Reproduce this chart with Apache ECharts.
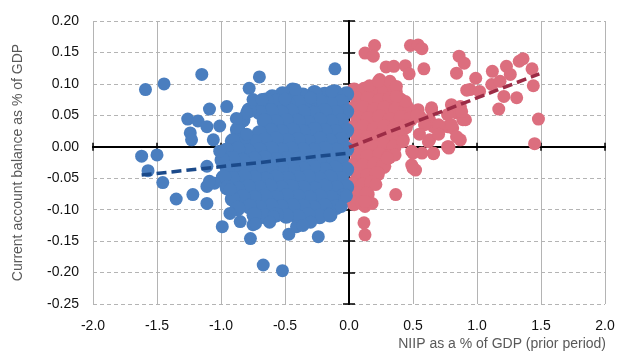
<!DOCTYPE html>
<html>
<head>
<meta charset="utf-8">
<script src="https://cdn.jsdelivr.net/npm/echarts@6/dist/echarts.min.js"></script>
<style>
  html, body { margin: 0; padding: 0; background: #fff; }
  #chart { width: 618px; height: 353px; }
</style>
</head>
<body>
<div id="chart"></div>
<script>
// tick range
const xTicks = { min: -2, max: 2, step: 0.5 };
const yTicks = { min: -0.25, max: 0.2, step: 0.05 };

// countries with negative NIIP (blue) - the dense middle of the cloud
const debtorCore = [
  [-0.02,0.084],[-0.11,0.087],[-0.19,0.083],[-0.27,0.086],[-0.36,0.082],[-0.44,0.09],[-0.52,0.084],[-0.60,0.079],
  [-0.06,0.071],[-0.15,0.069],[-0.23,0.072],[-0.31,0.068],[-0.40,0.071],[-0.48,0.069],[-0.57,0.072],[-0.65,0.074],[-0.68,0.066],
  [-0.02,0.056],[-0.10,0.054],[-0.19,0.057],[-0.28,0.053],[-0.36,0.055],[-0.45,0.056],[-0.53,0.054],[-0.61,0.057],[-0.70,0.055],[-0.78,0.058],
  [-0.06,0.041],[-0.14,0.039],[-0.23,0.042],[-0.32,0.038],[-0.40,0.04],[-0.49,0.041],[-0.57,0.039],[-0.66,0.041],[-0.83,0.043],
  [-0.02,0.026],[-0.11,0.024],[-0.19,0.025],[-0.27,0.027],[-0.36,0.023],[-0.44,0.026],[-0.53,0.024],[-0.61,0.025],[-0.70,0.022],[-0.87,0.027],
  [-0.06,0.011],[-0.15,0.009],[-0.23,0.012],[-0.32,0.008],[-0.40,0.011],[-0.48,0.009],[-0.57,0.012],[-0.66,0.01],[-0.74,0.008],[-0.83,0.011],[-0.91,0.009],
  [-0.02,-0.004],[-0.10,-0.006],[-0.19,-0.003],[-0.28,-0.006],[-0.36,-0.005],[-0.45,-0.004],[-0.53,-0.006],[-0.61,-0.003],[-0.70,-0.005],[-0.79,-0.007],[-0.87,-0.004],[-0.96,-0.006],
  [-0.06,-0.019],[-0.14,-0.021],[-0.23,-0.018],[-0.31,-0.022],[-0.40,-0.02],[-0.49,-0.019],[-0.57,-0.021],[-0.66,-0.018],[-0.74,-0.02],[-0.83,-0.022],[-0.91,-0.019],[-0.99,-0.021],
  [-0.02,-0.036],[-0.11,-0.034],[-0.19,-0.037],[-0.28,-0.033],[-0.36,-0.035],[-0.44,-0.036],[-0.53,-0.034],[-0.61,-0.036],[-0.70,-0.033],[-0.78,-0.035],[-0.87,-0.037],[-0.95,-0.034],
  [-0.06,-0.051],[-0.15,-0.049],[-0.23,-0.052],[-0.32,-0.048],[-0.40,-0.05],[-0.48,-0.051],[-0.57,-0.049],[-0.65,-0.052],[-0.74,-0.05],[-0.82,-0.048],[-0.91,-0.051],[-0.98,-0.049],
  [-0.02,-0.064],[-0.10,-0.066],[-0.19,-0.063],[-0.27,-0.067],[-0.36,-0.065],[-0.45,-0.064],[-0.53,-0.066],[-0.62,-0.063],[-0.70,-0.066],[-0.79,-0.064],[-0.87,-0.067],[-0.95,-0.065],
  [-0.04,-0.078],[-0.14,-0.081],[-0.23,-0.079],[-0.31,-0.082],[-0.40,-0.08],[-0.49,-0.078],[-0.57,-0.081],[-0.66,-0.079],[-0.74,-0.082],[-0.83,-0.08],[-0.91,-0.083],
  [-0.10,-0.096],[-0.19,-0.094],[-0.28,-0.097],[-0.36,-0.095],[-0.44,-0.094],[-0.53,-0.096],[-0.61,-0.094],[-0.70,-0.097],[-0.78,-0.095],[-0.87,-0.098],
  [-0.15,-0.108],[-0.23,-0.111],[-0.32,-0.109],[-0.40,-0.112],[-0.49,-0.11],[-0.57,-0.108],[-0.66,-0.111],[-0.74,-0.109]
];

// countries with negative NIIP (blue) - scattered around the cloud
const debtorOuter = [
  [-1.59,0.091],[-1.445,0.100],[-1.15,0.115],[-0.78,0.093],[-0.70,0.111],[-1.09,0.060],[-0.955,0.064],[-1.26,0.044],
  [-1.18,0.041],[-1.24,0.022],[-1.23,0.011],[-1.11,0.032],[-1.06,0.011],[-1.01,0.033],[-1.62,-0.015],[-1.50,-0.013],
  [-1.57,-0.038],[-1.11,-0.031],[-1.01,-0.007],[-0.75,0.075],[-0.50,0.076],[-0.42,0.091],[-0.30,0.078],[-0.80,0.054],
  [-0.68,0.075],[-0.135,0.088],[-0.11,0.124],[-1.455,-0.057],[-1.35,-0.083],[-1.22,-0.076],[-1.11,-0.090],[-1.11,-0.063],
  [-1.05,-0.058],[-1.09,-0.055],[-0.99,-0.127],[-0.93,-0.068],[-0.93,-0.106],[-0.85,-0.119],[-0.77,-0.146],[-0.67,-0.188],
  [-0.52,-0.197],[-0.75,-0.124],[-0.73,-0.122],[-0.59,-0.111],[-0.47,-0.139],[-0.41,-0.127],[-0.24,-0.143],[-0.15,-0.108],
  [-0.06,-0.095],[-0.02,-0.078],[-0.30,-0.12],[-0.36,-0.125],[-0.62,-0.12],[-0.88,0.045],[-0.80,0.02]
];

// countries with positive NIIP (red) - the dense middle of the cloud
const creditorCore = [
  [0.04,0.09],[0.12,0.091],[0.20,0.088],[0.28,0.09],[0.36,0.087],
  [0.07,0.075],[0.15,0.076],[0.24,0.073],[0.32,0.076],[0.40,0.074],
  [0.03,0.06],[0.11,0.061],[0.20,0.058],[0.28,0.061],[0.37,0.059],[0.45,0.062],
  [0.07,0.045],[0.15,0.044],[0.24,0.047],[0.32,0.043],[0.41,0.046],[0.48,0.044],
  [0.03,0.03],[0.11,0.031],[0.20,0.028],[0.28,0.031],[0.36,0.029],[0.44,0.032],
  [0.07,0.015],[0.15,0.014],[0.24,0.017],[0.32,0.013],[0.40,0.016],
  [0.03,0.0],[0.11,0.002],[0.20,-0.002],[0.28,0.001],[0.35,-0.001],
  [0.07,-0.015],[0.15,-0.016],[0.24,-0.013],[0.31,-0.016],
  [0.03,-0.03],[0.11,-0.031],[0.20,-0.028],[0.27,-0.031],
  [0.07,-0.045],[0.15,-0.046],[0.22,-0.043],
  [0.03,-0.06],[0.11,-0.061],[0.18,-0.058],
  [0.07,-0.075],[0.14,-0.076],
  [0.04,-0.09],[0.11,-0.089]
];

// countries with positive NIIP (red) - scattered around the cloud
const creditorOuter = [
  [0.125,0.149],[0.20,0.161],[0.19,0.144],[0.48,0.161],[0.54,0.162],[0.57,0.156],[0.29,0.127],[0.35,0.128],
  [0.44,0.129],[0.47,0.116],[0.585,0.124],[0.86,0.144],[0.90,0.133],[0.84,0.117],[0.99,0.109],[1.12,0.120],
  [1.23,0.128],[1.33,0.136],[1.36,0.140],[1.43,0.124],[1.44,0.097],[1.48,0.044],[1.45,0.005],[1.31,0.078],
  [1.17,0.060],[1.21,0.080],[1.115,0.099],[0.945,0.091],[1.02,0.088],[1.18,0.104],[1.26,0.115],[0.80,0.067],
  [0.84,0.054],[0.78,0.032],[0.87,0.011],[0.78,0.000],[0.89,0.043],[0.645,0.059],[0.66,0.032],[0.63,0.011],
  [0.66,-0.011],[0.50,-0.010],[0.50,-0.034],[0.425,0.011],[0.555,0.048],[0.31,-0.015],[0.24,0.107],[0.32,0.104],
  [0.37,0.096],[0.44,0.072],[0.365,-0.076],[0.125,-0.095],[0.117,-0.121],[0.125,-0.140],[0.52,-0.037],
  [0.57,-0.010],[0.63,0.043],[0.77,0.032],[0.84,0.059],[0.78,-0.002],[0.37,0.08],
  [0.54,0.059],[0.70,0.035],[0.81,0.03],[0.84,0.016],[0.91,0.043],[0.77,0.051],[0.87,0.064],
  [0.92,0.09],[0.16,0.097],[0.18,-0.09],[0.21,-0.06],
  [0.645,0.062],[0.59,0.035],[0.62,0.008],[0.49,-0.007],[0.66,-0.01],[0.77,0.0],[0.80,0.035],[0.88,0.056],
  [0.36,-0.013],[0.30,-0.018],[0.49,-0.029],[0.42,0.008],[0.125,-0.087],[0.23,0.104],[0.53,0.05],[0.55,0.02],
  [0.70,0.02]
];

// fitted trend lines
const debtorTrend = [[-1.62, -0.045], [0.0, -0.010]];
const creditorTrend = [[0.0, -0.001], [1.487, 0.116]];

const FONT = '"Liberation Sans", Arial, Helvetica, sans-serif';
const BLUE = '#4a7ebf';
const RED = '#dc6e7e';

const chart = echarts.init(document.getElementById('chart'), null, { renderer: 'canvas' });

// extra axes that sit on the zero lines (line + ticks on both sides)
const zeroX = (inside) => ({
  type: 'value', min: xTicks.min, max: xTicks.max, interval: xTicks.step, position: 'bottom',
  axisLine: { show: true, onZero: true, onZeroAxisIndex: 0, lineStyle: { color: '#000', width: 2 } },
  axisTick: { show: true, inside: inside, length: 4, lineStyle: { color: '#000', width: 1.5 } },
  axisLabel: { show: false }, splitLine: { show: false }
});
const zeroY = (inside) => ({
  type: 'value', min: yTicks.min, max: yTicks.max, interval: yTicks.step, position: 'left',
  axisLine: { show: true, onZero: true, onZeroAxisIndex: 0, lineStyle: { color: '#000', width: 2 } },
  axisTick: { show: true, inside: inside, length: 6, lineStyle: { color: '#000', width: 1.5 } },
  axisLabel: { show: false }, splitLine: { show: false }
});

const dots = (name, data, color, size, z) => ({
  name: name, type: 'scatter', data: data, symbolSize: size, z: z,
  itemStyle: { color: color, opacity: 1 }
});

const option = {
  animation: false,
  textStyle: { fontFamily: FONT },
  title: {
    text: 'NIIP as a % of GDP (prior period)',
    right: 12,
    top: 337,
    padding: 0,
    textStyle: { fontSize: 14, fontWeight: 'normal', color: '#595959', fontFamily: FONT }
  },
  grid: { left: 93, right: 13, top: 21, bottom: 49 },
  xAxis: [
    {
      type: 'value', min: xTicks.min, max: xTicks.max, interval: xTicks.step, position: 'bottom',
      axisLine: { show: false, onZero: false },
      axisTick: { show: false },
      axisLabel: { fontSize: 14, color: '#111', margin: 15, formatter: (v) => v.toFixed(1) },
      splitLine: { show: true, lineStyle: { color: '#b4b4b4', width: 1 } }
    },
    zeroX(false),
    zeroX(true)
  ],
  yAxis: [
    {
      type: 'value', min: yTicks.min, max: yTicks.max, interval: yTicks.step, position: 'left',
      name: 'Current account balance as % of GDP',
      nameLocation: 'middle',
      nameGap: 68,
      nameTextStyle: { fontSize: 14, color: '#595959' },
      axisLine: { show: false, onZero: false },
      axisTick: { show: false },
      axisLabel: { fontSize: 14, color: '#111', margin: 14, formatter: (v) => v.toFixed(2) },
      splitLine: { show: true, lineStyle: { color: '#b4b4b4', width: 1, type: [4, 3] } }
    },
    zeroY(false),
    zeroY(true)
  ],
  series: [
    dots('Creditors', creditorCore, RED, 15.5, 3),
    dots('Creditors', creditorOuter, RED, 13, 3),
    dots('Debtors', debtorCore, BLUE, 15.5, 4),
    dots('Debtors', debtorOuter, BLUE, 13, 4),
    {
      name: 'Debtor trend', type: 'line', data: debtorTrend, symbol: 'none', z: 6,
      lineStyle: { color: '#1b4a8a', width: 3.5, type: [10, 5] }
    },
    {
      name: 'Creditor trend', type: 'line', data: creditorTrend, symbol: 'none', z: 6,
      lineStyle: { color: '#9c2c46', width: 3.5, type: [10, 5] }
    }
  ]
};

chart.setOption(option);
</script>
</body>
</html>
